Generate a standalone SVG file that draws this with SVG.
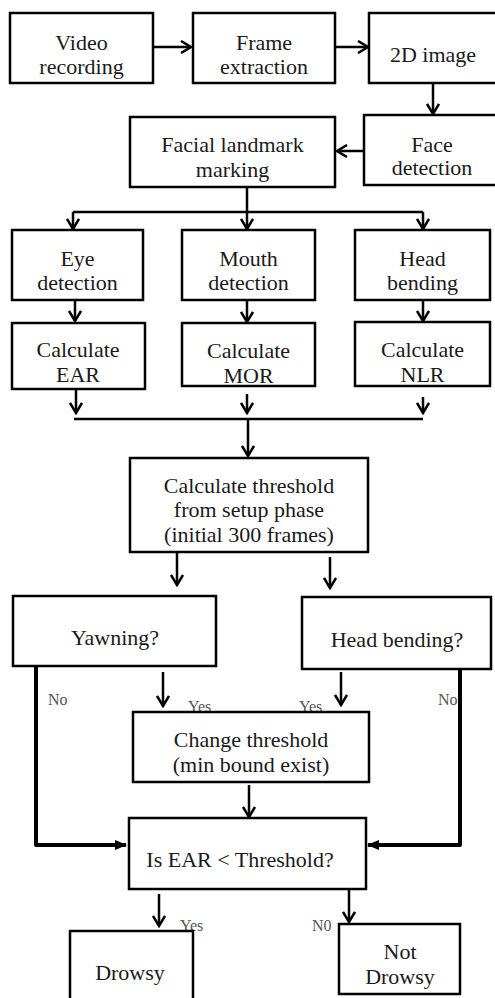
<svg xmlns="http://www.w3.org/2000/svg" width="495" height="998" viewBox="0 0 495 998">
<defs>
<style>
.box{fill:#fff;stroke:#000;stroke-width:2.5}
.t{font-family:"Liberation Serif","Times New Roman",serif;font-size:22px;fill:#1a1a1a;text-anchor:middle}
.lbl{font-family:"Liberation Serif","Times New Roman",serif;font-size:16px;fill:#555}
.c{fill:none;stroke:#000;stroke-width:2.5}
.thick{fill:none;stroke:#000;stroke-width:4;stroke-linejoin:round}
.arr{marker-end:url(#chev)}
.farr{marker-end:url(#tri)}
</style>
<marker id="chev" viewBox="0 0 14 14" refX="12" refY="7" markerWidth="14" markerHeight="14" markerUnits="userSpaceOnUse" orient="auto">
<path d="M2,1 L12,7 L2,13" fill="none" stroke="#000" stroke-width="2.5"/>
</marker>
<marker id="tri" viewBox="0 0 12 10" refX="11" refY="5" markerWidth="12" markerHeight="10" markerUnits="userSpaceOnUse" orient="auto">
<path d="M0,0 L12,5 L0,10 Z" fill="#000"/>
</marker>
</defs>
<rect width="495" height="998" fill="#fff"/>

<g id="connectors">
<path class="c arr" d="M153,47 L191,47"/>
<path class="c arr" d="M335,47 L368,47"/>
<path class="c arr" d="M433,83 L433,114"/>
<path class="c arr" d="M364,151 L337,151"/>
<path class="c" d="M247,187 L247,212"/>
<path class="c" d="M73,212 L423,212"/>
<path class="c arr" d="M73,212 L73,229"/>
<path class="c arr" d="M247,212 L247,229"/>
<path class="c arr" d="M423,212 L423,229"/>
<path class="c arr" d="M75,300 L75,321"/>
<path class="c arr" d="M247,300 L247,322"/>
<path class="c arr" d="M423,300 L423,321"/>
<path class="c arr" d="M76,390 L76,413"/>
<path class="c arr" d="M247,394 L247,413"/>
<path class="c arr" d="M423,397 L423,413"/>
<path class="c" d="M74,419 L423,419"/>
<path class="c arr" d="M248,419 L248,456"/>
<path class="c arr" d="M177,552 L177,585"/>
<path class="c arr" d="M330,557 L330,588"/>
<path class="thick farr" d="M36,666 L36,845 L126,845"/>
<path class="c arr" d="M163,672 L163,706"/>
<path class="c arr" d="M341,672 L341,705"/>
<path class="thick farr" d="M460,669 L460,845 L368,845"/>
<path class="c arr" d="M249,785 L249,817"/>
<path class="c arr" d="M159,894 L159,926"/>
<path class="c arr" d="M349,889 L349,922"/>
</g>

<g id="labels">
<text class="lbl" x="48" y="705">No</text>
<text class="lbl" x="188" y="712">Yes</text>
<text class="lbl" x="299" y="712">Yes</text>
<text class="lbl" x="438" y="705">No</text>
<text class="lbl" x="180" y="931">Yes</text>
<text class="lbl" x="312" y="931">N0</text>
</g>

<g id="video">
<rect class="box" x="10" y="13" width="143" height="70"/>
<text class="t" x="81.5" y="50">Video</text>
<text class="t" x="81.5" y="74">recording</text>
</g>
<g id="frame">
<rect class="box" x="193" y="13" width="142" height="70"/>
<text class="t" x="264" y="50">Frame</text>
<text class="t" x="264" y="74">extraction</text>
</g>
<g id="image2d">
<rect class="box" x="369" y="13" width="140" height="70"/>
<text class="t" x="433" y="62">2D image</text>
</g>
<g id="face">
<rect class="box" x="364" y="115" width="145" height="70"/>
<text class="t" x="432" y="152">Face</text>
<text class="t" x="432" y="175">detection</text>
</g>
<g id="landmark">
<rect class="box" x="130" y="117" width="205" height="70"/>
<text class="t" x="232.5" y="152">Facial landmark</text>
<text class="t" x="232.5" y="177">marking</text>
</g>
<g id="eye">
<rect class="box" x="12" y="230" width="131" height="70"/>
<text class="t" x="77.5" y="266">Eye</text>
<text class="t" x="77.5" y="290">detection</text>
</g>
<g id="mouth">
<rect class="box" x="182" y="230" width="133" height="70"/>
<text class="t" x="248.5" y="266">Mouth</text>
<text class="t" x="248.5" y="290">detection</text>
</g>
<g id="head">
<rect class="box" x="355" y="230" width="135" height="70"/>
<text class="t" x="422.5" y="266">Head</text>
<text class="t" x="422.5" y="290">bending</text>
</g>
<g id="ear">
<rect class="box" x="12" y="323" width="133" height="66"/>
<text class="t" x="78" y="357">Calculate</text>
<text class="t" x="78" y="382">EAR</text>
</g>
<g id="mor">
<rect class="box" x="182" y="323" width="133" height="63"/>
<text class="t" x="248.5" y="358">Calculate</text>
<text class="t" x="248.5" y="383">MOR</text>
</g>
<g id="nlr">
<rect class="box" x="355" y="322" width="135" height="64"/>
<text class="t" x="422.5" y="357">Calculate</text>
<text class="t" x="422.5" y="382">NLR</text>
</g>
<g id="threshold">
<rect class="box" x="130" y="458" width="238" height="94"/>
<text class="t" x="249" y="493">Calculate threshold</text>
<text class="t" x="249" y="517">from setup phase</text>
<text class="t" x="249" y="542">(initial 300 frames)</text>
</g>
<g id="yawning">
<rect class="box" x="13" y="596" width="203" height="70"/>
<text class="t" x="115" y="645">Yawning?</text>
</g>
<g id="headbending">
<rect class="box" x="302" y="597" width="189" height="72"/>
<text class="t" x="397" y="647">Head bending?</text>
</g>
<g id="change">
<rect class="box" x="133" y="712" width="236" height="70"/>
<text class="t" x="251" y="747">Change threshold</text>
<text class="t" x="251" y="772">(min bound exist)</text>
</g>
<g id="isear">
<rect class="box" x="129" y="818" width="237" height="71"/>
<text class="t" x="240" y="867">Is EAR &lt; Threshold?</text>
</g>
<g id="drowsy">
<rect class="box" x="70" y="931" width="123" height="80"/>
<text class="t" x="130" y="980">Drowsy</text>
</g>
<g id="notdrowsy">
<rect class="box" x="339" y="924" width="121" height="70"/>
<text class="t" x="400" y="959">Not</text>
<text class="t" x="400" y="984">Drowsy</text>
</g>
</svg>
